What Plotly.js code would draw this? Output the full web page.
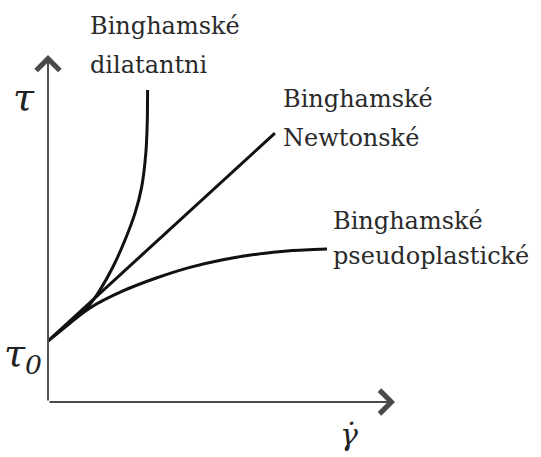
<!DOCTYPE html>
<html>
<head>
<meta charset="utf-8">
<script src="https://cdn.plot.ly/plotly-3.0.1.min.js"></script>
<style>html,body{margin:0;padding:0;background:#fff;}#chart{width:541px;height:457px;}</style>
</head>
<body>
<div id="chart"></div>
<script>
// Shear rate (x) and shear stress (y), arbitrary units
const tau0 = 1.76;
const dilatantX = [0, 1.15, 1.50, 1.87, 2.22, 2.51, 2.70, 2.82, 2.86, 2.87];
const dilatantY = [tau0, 2.74, 3.23, 3.89, 4.67, 5.45, 6.20, 7.18, 8.04, 8.99];
const newtonX = [0, 6.54];
const newtonY = [tau0, 7.75];
const pseudoX = [0, 1.21, 2.16, 3.14, 4.09, 5.04, 6.02, 6.97, 8.04];
const pseudoY = [tau0, 2.71, 3.20, 3.58, 3.88, 4.10, 4.26, 4.36, 4.41];
const labelLine1 = ["Binghamské", "Binghamské", "Binghamské"];
const labelLine2 = ["dilatantni", "Newtonské", "pseudoplastické"];

const lineStyle = {color: '#111', width: 3, shape: 'spline', smoothing: 0.8};
const traces = [
  {x: dilatantX, y: dilatantY, mode: 'lines', line: lineStyle, cliponaxis: false, hoverinfo: 'skip'},
  {x: newtonX, y: newtonY, mode: 'lines', line: {color: '#111', width: 3}, cliponaxis: false, hoverinfo: 'skip'},
  {x: pseudoX, y: pseudoY, mode: 'lines', line: lineStyle, cliponaxis: false, hoverinfo: 'skip'}
];

const serif = 'DejaVu Serif';
const txtFont = {family: serif, size: 24, color: '#2a2a2a'};

// label placement (paper fractions of the plot area)
const labelX = [0.1153, 0.6715, 0.8156];
const labelY1 = [1.0836, 0.8732, 0.5216];
const labelY2 = [0.9712, 0.7608, 0.4207];

const annotations = [
  // axes with open arrowheads
  {x: 10, y: 0, ax: 0, ay: 0, xref: 'x', yref: 'y', axref: 'x', ayref: 'y', text: '', showarrow: true,
   arrowhead: 4, arrowsize: 2.4, arrowwidth: 1.9, arrowcolor: '#4a4a4a'},
  {x: 0, y: 10, ax: 0, ay: 0, xref: 'x', yref: 'y', axref: 'x', ayref: 'y', text: '', showarrow: true,
   arrowhead: 4, arrowsize: 2.4, arrowwidth: 1.9, arrowcolor: '#4a4a4a'},
  // axis symbols
  {x: -0.069, y: 0.879, xref: 'paper', yref: 'paper', text: '<i>τ</i>', showarrow: false, xanchor: 'center', yanchor: 'middle', font: {family: serif, size: 38, color: '#222'}},
  {x: -0.012, y: 0.133, xref: 'paper', yref: 'paper', text: '<i>τ<sub>0</sub></i>', showarrow: false, xanchor: 'right', yanchor: 'middle', font: {family: serif, size: 38, color: '#222'}},
  {x: 0.866, y: -0.0951, xref: 'paper', yref: 'paper', text: '<i>γ̇</i>', showarrow: false, xanchor: 'center', yanchor: 'middle', font: {family: serif, size: 30, color: '#222'}}
];
for (let i = 0; i < 3; i++) {
  annotations.push({x: labelX[i], y: labelY1[i], xref: 'paper', yref: 'paper', text: labelLine1[i], showarrow: false, xanchor: 'left', yanchor: 'middle', font: txtFont});
  annotations.push({x: labelX[i], y: labelY2[i], xref: 'paper', yref: 'paper', text: labelLine2[i], showarrow: false, xanchor: 'left', yanchor: 'middle', font: txtFont});
}

const axisBase = {range: [0, 10], showgrid: false, zeroline: false, showline: false, showticklabels: false, ticks: '', fixedrange: true};
const layout = {
  width: 541, height: 457,
  margin: {l: 48, r: 146, t: 55, b: 55},
  paper_bgcolor: '#fff', plot_bgcolor: '#fff',
  showlegend: false,
  font: {family: serif},
  xaxis: Object.assign({}, axisBase),
  yaxis: Object.assign({}, axisBase),
  annotations: annotations
};
Plotly.newPlot('chart', traces, layout, {staticPlot: true, displayModeBar: false});
</script>
</body>
</html>
